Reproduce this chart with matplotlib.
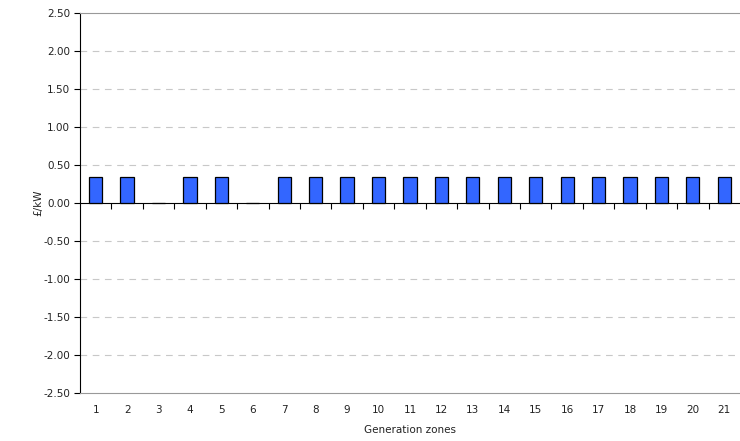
import numpy as np
import matplotlib.pyplot as plt

# zone numbers and tariff values
zones = [str(i) for i in range(1, 22)]
tariff = [0.34, 0.34, 0.0, 0.34, 0.34, 0.0, 0.34, 0.34, 0.34, 0.34, 0.34,
          0.34, 0.34, 0.34, 0.34, 0.34, 0.34, 0.34, 0.34, 0.34, 0.34]
y_ticks = [-2.5, -2.0, -1.5, -1.0, -0.5, 0.0, 0.5, 1.0, 1.5, 2.0, 2.5]

plt.rcParams['font.family'] = ['DejaVu Sans']

fig = plt.figure(figsize=(7.4, 4.41), dpi=100)
ax = fig.add_axes([0.108, 0.109, 0.892, 0.862])

x = np.arange(len(zones))
ax.bar(x, tariff, width=0.42, color='#3366FF', edgecolor='black', linewidth=0.9, zorder=3)

ax.set_xlim(-0.5, len(zones) - 0.5)
ax.set_ylim(-2.5, 2.5)
ax.set_yticks(y_ticks)
ax.set_yticklabels(['%.2f' % v for v in y_ticks], fontsize=7.5, color='#222222')
ax.set_xticks(x)
ax.set_xticklabels(zones, fontsize=7.5, color='#222222')
ax.tick_params(axis='x', length=0, pad=9)
ax.tick_params(axis='y', length=4, width=0.8, direction='out', pad=3)

# dashed gridlines
for v in y_ticks[1:-1]:
    if v != 0:
        ax.axhline(v, color='#c8c8c8', linestyle=(0, (6, 5)), linewidth=0.8, zorder=1)

ax.spines['left'].set_color('black')
ax.spines['top'].set_color('#999999')
ax.spines['bottom'].set_color('#999999')
ax.spines['right'].set_visible(False)

# zero axis with category-boundary tick marks pointing down
zero_ax = ax.secondary_xaxis(0.5)
zero_ax.set_xticks(x[:-1] + 0.5)
zero_ax.set_xticklabels([])
zero_ax.tick_params(length=4, width=0.8, direction='in', color='black')
zero_ax.spines['bottom'].set_color('black')
zero_ax.spines['top'].set_color('black')

ax.set_xlabel('Generation zones', fontsize=7.5, labelpad=7, color='#222222')
ax.set_ylabel('£/kW', fontsize=7.5, color='#222222')
ax.yaxis.set_label_coords(-0.055, 0.5)

fig.savefig('out.png', dpi=100)
